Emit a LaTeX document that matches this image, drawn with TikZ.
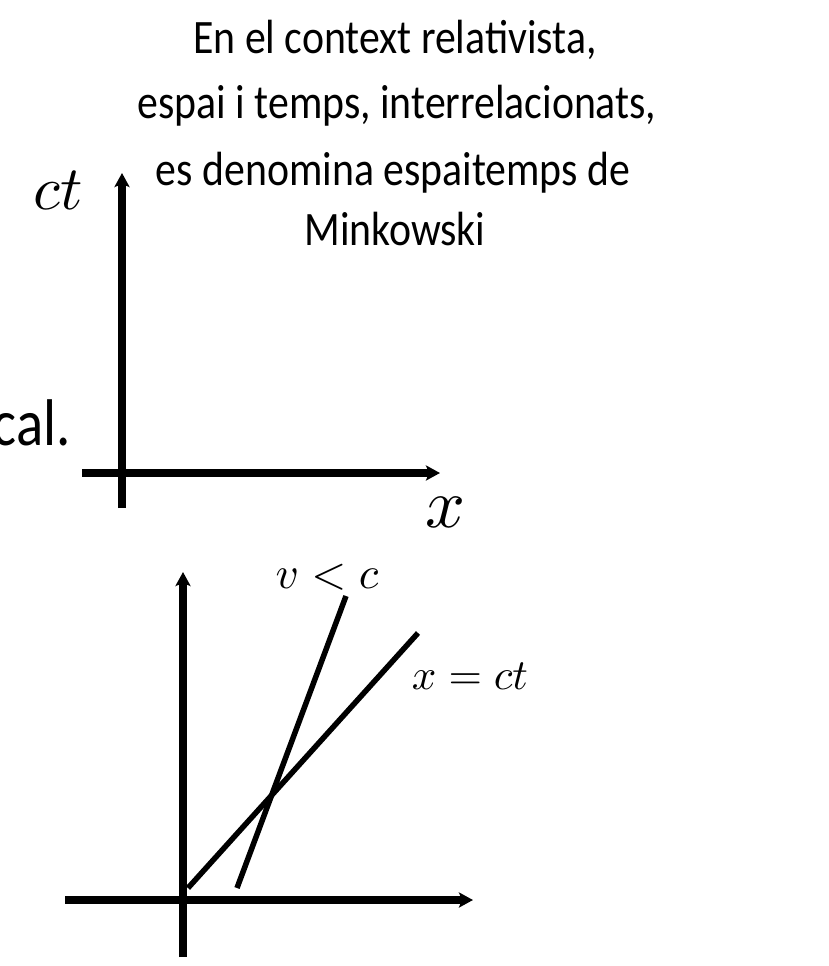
\documentclass[tikz,border=0pt]{standalone}
\usepackage{fontspec}
\setmainfont{Carlito}
\usetikzlibrary{arrows.meta}
\begin{document}
\begin{tikzpicture}[x=1pt,y=-1pt,
  axis/.style={line width=7.5pt,-{Stealth[length=14pt,width=15pt,inset=3pt]}},
  worldline/.style={line width=5.5pt},
  title/.style={anchor=base,inner sep=0pt,xscale=0.87,font=\fontsize{48}{48}\selectfont},
  mathlbl/.style={inner sep=0pt,anchor=center}]
\useasboundingbox (0,0) rectangle (828,966);
% title text
\node[title] (t1) at (395,53) {En el context relativista,};
\node[title] (t2) at (397,118) {espai i temps, interrelacionats,};
\node[title] (t3) at (393,185) {es denomina espaitemps de};
\node[title] (t4) at (395,245) {Minkowski};
\node[anchor=base east,inner sep=0pt,font=\fontsize{66}{66}\selectfont] (cal) at (71,445) {\scalebox{0.86}[1]{cal.}};
% top axes
\coordinate (v1a) at (122,508);
\coordinate (v1b) at (122,173);
\coordinate (h1a) at (82,473);
\coordinate (h1b) at (440,473);
\draw[axis] (v1a) -- (v1b);
\draw[axis] (h1a) -- (h1b);
\node[mathlbl,scale=6.2] (ct) at (58,190) {$ct$};
\node[mathlbl,scale=7] (xl) at (445,512) {$x$};
% bottom axes
\coordinate (v2a) at (183,957);
\coordinate (v2b) at (183,572);
\coordinate (h2a) at (65,900);
\coordinate (h2b) at (473,900);
\draw[axis] (v2a) -- (v2b);
\draw[axis] (h2a) -- (h2b);
\coordinate (l1a) at (188,888);
\coordinate (l1b) at (418,633);
\coordinate (l2a) at (237,888);
\coordinate (l2b) at (346,596);
\draw[worldline] (l1a) -- (l1b);
\draw[worldline] (l2a) -- (l2b);
\node[mathlbl,scale=4.5] (vc) at (327,577) {$v<c$};
\node[mathlbl,scale=4.3] (xct) at (470,676) {$x=ct$};
\end{tikzpicture}
\end{document}
